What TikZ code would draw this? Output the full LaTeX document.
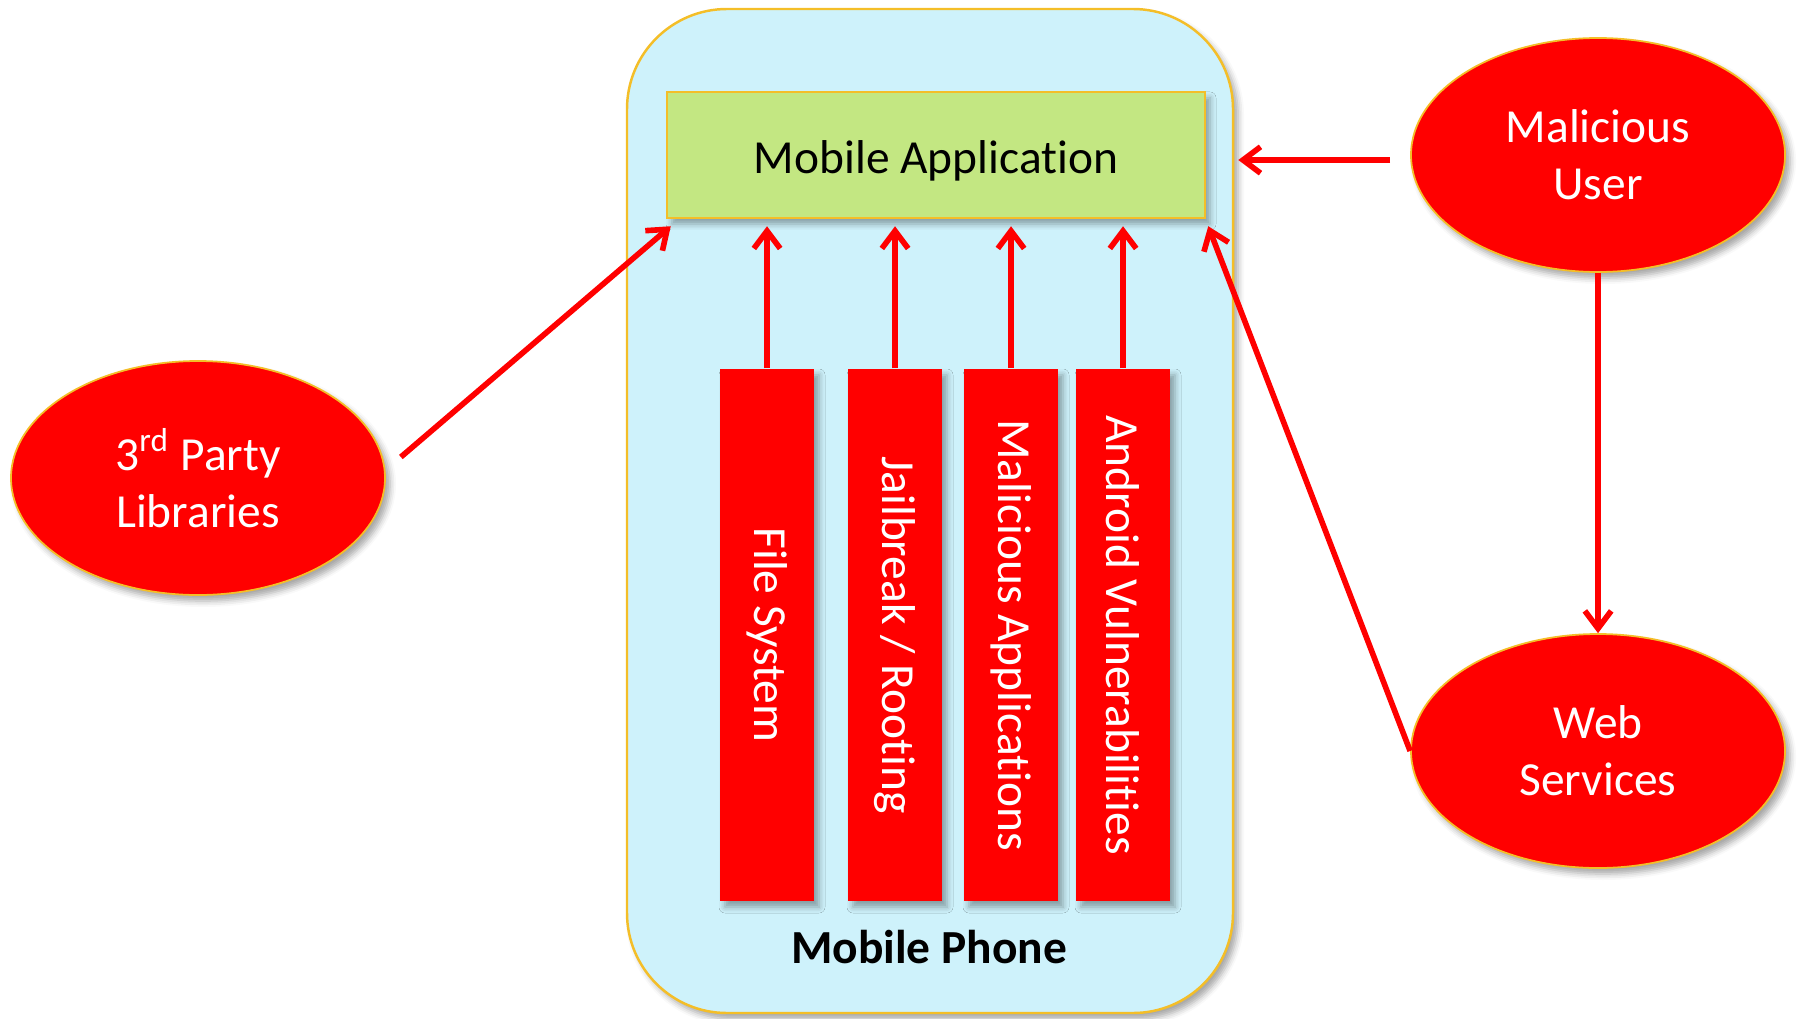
\documentclass[tikz,border=0pt]{standalone}
\usepackage{fontspec, graphicx}
\setmainfont{Carlito}[Ligatures=NoCommon]
\usetikzlibrary{shapes.geometric, arrows.meta, shadows.blur}
\definecolor{phonefill}{RGB}{206,242,251}
\definecolor{appfill}{RGB}{195,231,130}
\definecolor{goldline}{RGB}{244,190,40}

\begin{document}
\begin{tikzpicture}[>={Straight Barb[length=5pt,width=7.5pt]},
  font=\fontsize{13.5}{16.2}\selectfont,
  softshadow/.style={blur shadow={shadow xshift=0.05cm, shadow yshift=-0.06cm,
    shadow blur radius=0.06cm, shadow opacity=35}},
  attack/.style={->, red, line width=1.6pt},
  threat/.style={ellipse, fill=red, draw=goldline, line width=0.5pt, text=white,
    align=center, minimum width=3.74cm, minimum height=2.34cm, softshadow},
  layer/.style={rectangle, fill=red, text=white, inner sep=0pt,
    minimum width=0.94cm, minimum height=5.32cm, softshadow}]
\useasboundingbox (0,0) rectangle (17.99,10.18);
% Phone body with the app on top
\node[rectangle, rounded corners=1cm, fill=phonefill, draw=goldline, line width=0.7pt,
  minimum width=6.06cm, minimum height=10.04cm, softshadow] (phone) at (9.30,5.07) {};
\node[rectangle, fill=appfill, draw=goldline, line width=0.7pt,
  minimum width=5.38cm, minimum height=1.26cm, softshadow] (app) at (9.36,8.63)
  {\raisebox{-0.06cm}[\height][\depth]{Mobile Application}};
\node[font=\fontsize{13.5}{16.2}\selectfont\bfseries] (phonelbl) at (9.29,0.71) {Mobile Phone};
% Platform layers, text runs top to bottom
\node[layer] (fs) at (7.67,3.83) {\rotatebox{-90}{File System}};
\node[layer] (jb) at (8.95,3.83) {\rotatebox{-90}{Jailbreak / Rooting}};
\node[layer] (ma) at (10.11,3.83) {\rotatebox{-90}{Malicious Applications}};
\node[layer] (av) at (11.23,3.83) {\rotatebox{-90}{Android Vulnerabilities}};
% Outside threats
\node[threat] (lib) at (1.98,5.40) {3\textsuperscript{rd} Party\\Libraries};
\node[threat] (mu) at (15.98,8.63) {Malicious\\User};
\node[threat] (ws) at (15.98,2.67) {Web\\Services};
% Attack paths into the app
\draw[attack] ([shift={(0.15,0.21)}]lib.east) -- ([shift={(0.05,-0.07)}]app.south west);
\draw[attack] ([shift={(-0.2,-0.05)}]mu.west) -- ([shift={(0.04,-0.05)}]phone.east |- mu.west);
\draw[attack] (mu.south) -- (ws.north);
\draw[attack] (ws.west) -- ([shift={(0.02,-0.07)}]app.south east);
\foreach \b in {fs,jb,ma,av}
  \draw[attack, shorten >=0.07cm] (\b.north) -- (\b.north |- app.south);
\end{tikzpicture}
\end{document}
